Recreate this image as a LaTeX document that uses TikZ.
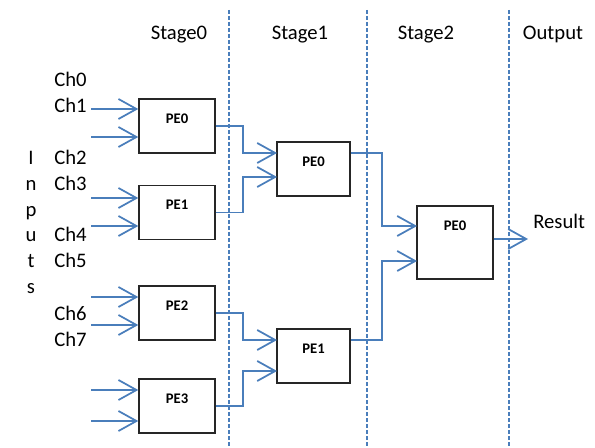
\documentclass[tikz,border=0pt]{standalone}
\usepackage{fontspec}
\setmainfont{Carlito}
\usepackage{tikz}
\usetikzlibrary{arrows.meta,calc}

\definecolor{wireblue}{RGB}{74,126,187}

\tikzset{
  pebox/.style={draw=black!85, line width=1.1pt, minimum width=57pt, minimum height=40.5pt, inner sep=0pt},
  petext/.style={font=\fontsize{11}{13}\selectfont\bfseries, inner sep=0pt},
  lbl/.style={font=\fontsize{15.5}{18.6}\selectfont, inner sep=0pt},
  wire/.style={draw=wireblue, line width=1.3pt, -{Straight Barb[length=13.5pt,width=15pt,line width=1.3pt]}},
  stageline/.style={draw=wireblue, line width=1.1pt, dash pattern=on 3pt off 1.5pt}
}

\begin{document}
\begin{tikzpicture}[x=0.75pt,y=-0.75pt]
  \useasboundingbox (0,0) rectangle (595,448);

  % stage boundaries
  \draw[stageline] (229,10) -- (229,448);
  \draw[stageline] (367,10) -- (367,448);
  \draw[stageline] (509,10) -- (509,448);

  % headings
  \node[lbl, anchor=base] (h0) at (179,40) {Stage0};
  \node[lbl, anchor=base] (h1) at (300,40) {Stage1};
  \node[lbl, anchor=base] (h2) at (426,40) {Stage2};
  \node[lbl, anchor=base] (h3) at (553,40) {Output};

  % channel names
  \foreach \n/\yy in {0/87,1/113,2/165,3/191,4/242,5/268,6/321,7/347}
    \node[lbl, anchor=base west] (name\n) at (54,\yy) {Ch\n};

  % vertical word
  \foreach \c/\yy [count=\k] in {I/165,n/191,p/216.5,u/242,t/268,s/293.5}
    \node[lbl, anchor=base] (word\k) at (31,\yy) {\c};

  % stage 0
  \node[pebox] (s0a) at (177,126) {};
  \node[pebox] (s0b) at (177,212.5) {};
  \node[pebox] (s0c) at (177,313) {};
  \node[pebox] (s0d) at (177,406) {};
  % stage 1
  \node[pebox, minimum width=55pt] (s1a) at (313.5,169) {};
  \node[pebox, minimum width=55pt] (s1b) at (313.5,356) {};
  % stage 2
  \node[pebox, minimum height=54.75pt] (s2a) at (455,242.5) {};

  \node[petext] (s0a-t) at ([yshift=-15pt]s0a.north) {PE0};
  \node[petext] (s0b-t) at ([yshift=-15pt]s0b.north) {PE1};
  \node[petext] (s0c-t) at ([yshift=-15pt]s0c.north) {PE2};
  \node[petext] (s0d-t) at ([yshift=-15pt]s0d.north) {PE3};
  \node[petext] (s1a-t) at ([yshift=-15pt]s1a.north) {PE0};
  \node[petext] (s1b-t) at ([yshift=-15pt]s1b.north) {PE1};
  \node[petext] (s2a-t) at ([yshift=-15pt]s2a.north) {PE0};

  % input ports
  \coordinate (ch0) at (91,109);
  \coordinate (ch1) at (91,137);
  \coordinate (ch2) at (91,198);
  \coordinate (ch3) at (91,226);
  \coordinate (ch4) at (91,297);
  \coordinate (ch5) at (91,325);
  \coordinate (ch6) at (91,390);
  \coordinate (ch7) at (91,421);
  \coordinate (s1a-i1) at (277,153);
  \coordinate (s1a-i2) at (277,177);
  \coordinate (s1b-i1) at (277,340);
  \coordinate (s1b-i2) at (277,371);
  \coordinate (s2a-i1) at (417,226);
  \coordinate (s2a-i2) at (417,261);
  \coordinate (res) at (528,239);

  % inputs
  \draw[wire] (ch0) -- (ch0 -| s0a.west);
  \draw[wire] (ch1) -- (ch1 -| s0a.west);
  \draw[wire] (ch2) -- (ch2 -| s0b.west);
  \draw[wire] (ch3) -- (ch3 -| s0b.west);
  \draw[wire] (ch4) -- (ch4 -| s0c.west);
  \draw[wire] (ch5) -- (ch5 -| s0c.west);
  \draw[wire] (ch6) -- (ch6 -| s0d.west);
  \draw[wire] (ch7) -- (ch7 -| s0d.west);

  % stage 0 -> stage 1
  \draw[wire] (s0a.east) -- ++(27,0) |- (s1a-i1);
  \draw[wire] (s0b.east) -- ++(27,0) |- (s1a-i2);
  \draw[wire] (s0c.east) -- ++(27,0) |- (s1b-i1);
  \draw[wire] (s0d.east) -- ++(27,0) |- (s1b-i2);

  % stage 1 -> stage 2
  \draw[wire] (s1a.east |- s1a-i1) -- ++(31,0) |- (s2a-i1);
  \draw[wire] (s1b.east |- s1b-i1) -- ++(31,0) |- (s2a-i2);

  % output
  \draw[wire] (s2a.east |- res) -- (res);
  \node[lbl, anchor=base west] (result) at (533,229) {Result};
\end{tikzpicture}
\end{document}
